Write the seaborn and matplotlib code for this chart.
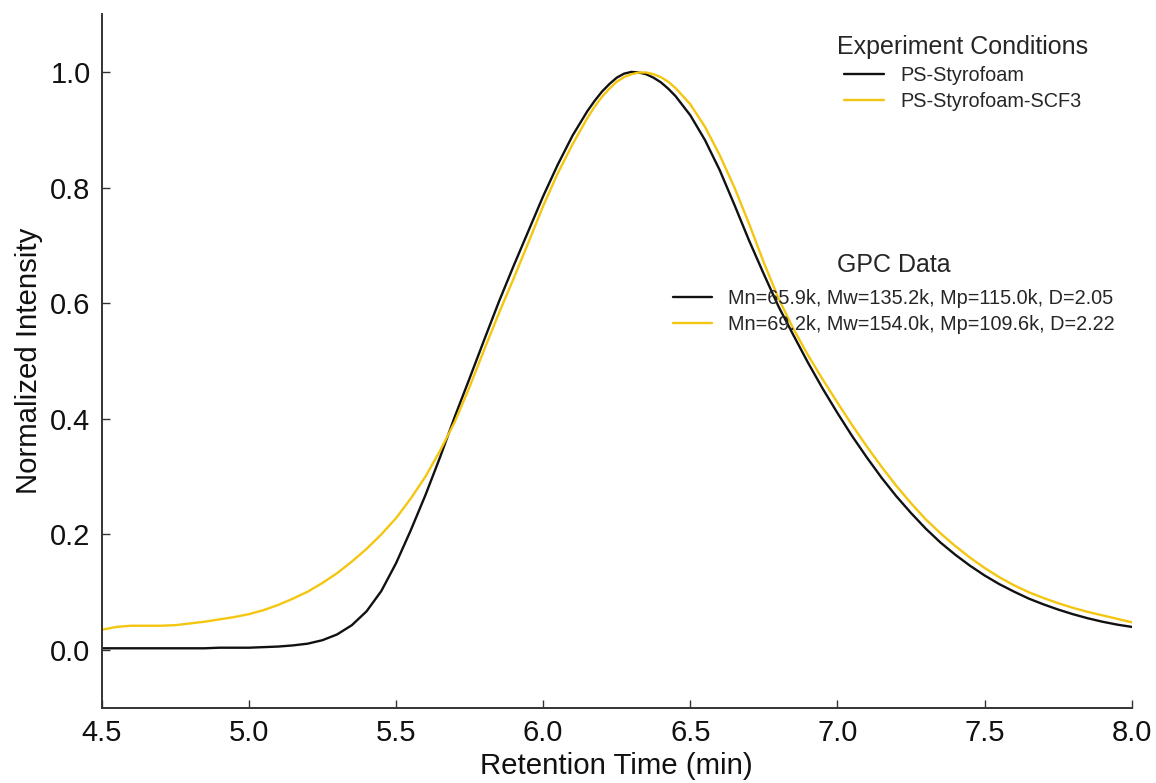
import matplotlib
matplotlib.use("Agg")
import matplotlib.pyplot as plt
import numpy as np
import pandas as pd
import seaborn as sns

# Retention time (min); denser sampling around the peak apex
retention_time = [
    4.50, 4.55, 4.60, 4.65, 4.70, 4.75, 4.80, 4.85, 4.90, 4.95,
    5.00, 5.05, 5.10, 5.15, 5.20, 5.25, 5.30, 5.35, 5.40, 5.45,
    5.50, 5.55, 5.60, 5.65, 5.70, 5.75, 5.80, 5.85, 5.90, 5.95,
    6.00, 6.05, 6.10, 6.15, 6.175, 6.20, 6.225, 6.25, 6.275, 6.30,
    6.325, 6.35, 6.375, 6.40, 6.425, 6.45,
    6.50, 6.55, 6.60, 6.65, 6.70, 6.75, 6.80, 6.85, 6.90, 6.95,
    7.00, 7.05, 7.10, 7.15, 7.20, 7.25, 7.30, 7.35, 7.40, 7.45,
    7.50, 7.55, 7.60, 7.65, 7.70, 7.75, 7.80, 7.85, 7.90, 7.95,
    8.00,
]

# Normalized RI trace, PS-Styrofoam
ps_styrofoam = [
    0.003, 0.003, 0.003, 0.003, 0.003, 0.003, 0.003, 0.003, 0.004, 0.004,
    0.004, 0.005, 0.006, 0.008, 0.011, 0.017, 0.027, 0.043, 0.067, 0.102,
    0.150, 0.207, 0.268, 0.334, 0.404, 0.470, 0.537, 0.603, 0.665, 0.725,
    0.785, 0.840, 0.890, 0.932, 0.950, 0.966, 0.979, 0.990, 0.997, 1.000,
    0.999, 0.996, 0.990, 0.982, 0.971, 0.958,
    0.925, 0.882, 0.830, 0.770, 0.708, 0.650, 0.594, 0.545, 0.497, 0.452,
    0.410, 0.370, 0.333, 0.298, 0.266, 0.237, 0.210, 0.186, 0.165, 0.146,
    0.129, 0.114, 0.101, 0.089, 0.079, 0.070, 0.062, 0.055, 0.049, 0.044,
    0.040,
]

# Normalized RI trace, PS-Styrofoam-SCF3
ps_styrofoam_scf3 = [
    0.035, 0.040, 0.042, 0.042, 0.042, 0.043, 0.046, 0.049, 0.053, 0.057,
    0.062, 0.069, 0.078, 0.089, 0.101, 0.116, 0.133, 0.153, 0.175, 0.200,
    0.228, 0.262, 0.300, 0.345, 0.395, 0.455, 0.520, 0.583, 0.643, 0.705,
    0.768, 0.825, 0.875, 0.920, 0.940, 0.957, 0.971, 0.983, 0.991, 0.996,
    0.999, 0.999, 0.996, 0.991, 0.983, 0.972,
    0.944, 0.905, 0.856, 0.800, 0.737, 0.670, 0.608, 0.556, 0.510, 0.468,
    0.428, 0.389, 0.352, 0.317, 0.284, 0.254, 0.226, 0.202, 0.180, 0.160,
    0.142, 0.126, 0.112, 0.100, 0.090, 0.081, 0.073, 0.066, 0.060, 0.054,
    0.048,
]

conditions = ["PS-Styrofoam", "PS-Styrofoam-SCF3"]
gpc_labels = [
    "Mn=65.9k, Mw=135.2k, Mp=115.0k, D=2.05",
    "Mn=69.2k, Mw=154.0k, Mp=109.6k, D=2.22",
]
colors = ["#111111", "#F4C610"]

df = pd.concat([
    pd.DataFrame({"time": retention_time, "intensity": ps_styrofoam,
                  "condition": conditions[0]}),
    pd.DataFrame({"time": retention_time, "intensity": ps_styrofoam_scf3,
                  "condition": conditions[1]}),
], ignore_index=True)

sns.set_style("ticks")
plt.rcParams["font.family"] = ["Liberation Sans", "DejaVu Sans"]

fig = plt.figure(figsize=(11.56, 7.83), dpi=100)
ax = fig.add_axes([0.088, 0.096, 0.891, 0.886])

sns.lineplot(data=df, x="time", y="intensity", hue="condition",
             hue_order=conditions, palette=colors, linewidth=1.7,
             ax=ax, legend=False)

xticks = np.arange(4.5, 8.01, 0.5)
yticks = np.arange(0.0, 1.01, 0.2)
ax.set_xlim(4.5, 8.0)
ax.set_ylim(-0.1, 1.1)
ax.set_xticks(xticks)
ax.set_yticks(yticks)
ax.set_xticklabels([f"{v:.1f}" for v in xticks])
ax.set_yticklabels([f"{v:.1f}" for v in yticks])
ax.tick_params(direction="in", length=6, width=1.0, labelsize=21,
               color="#333333", labelcolor="#111111", pad=8)
ax.set_xlabel("Retention Time (min)", fontsize=21.2, labelpad=4, color="#111111")
ax.set_ylabel("Normalized Intensity", fontsize=21.2, labelpad=5, color="#111111")
for side in ["top", "right"]:
    ax.spines[side].set_visible(False)
for side in ["left", "bottom"]:
    ax.spines[side].set_color("#333333")
    ax.spines[side].set_linewidth(1.4)

handles = ax.get_lines()[:2]

leg_kw = dict(frameon=False, fontsize=14.3, title_fontsize=18, handlelength=2.0,
              handletextpad=0.8, labelspacing=0.35, borderpad=0.2)

leg1 = ax.legend(handles=handles, labels=conditions, title="Experiment Conditions",
                 loc="upper center", bbox_to_anchor=(0.836, 0.99), **leg_kw)
ax.add_artist(leg1)

leg2 = ax.legend(handles=handles, labels=gpc_labels, title="GPC Data",
                 loc="upper center", bbox_to_anchor=(0.769, 0.675), **leg_kw)
leg2._legend_box.sep = 8

fig.savefig("out.png", dpi=100, facecolor="white")
